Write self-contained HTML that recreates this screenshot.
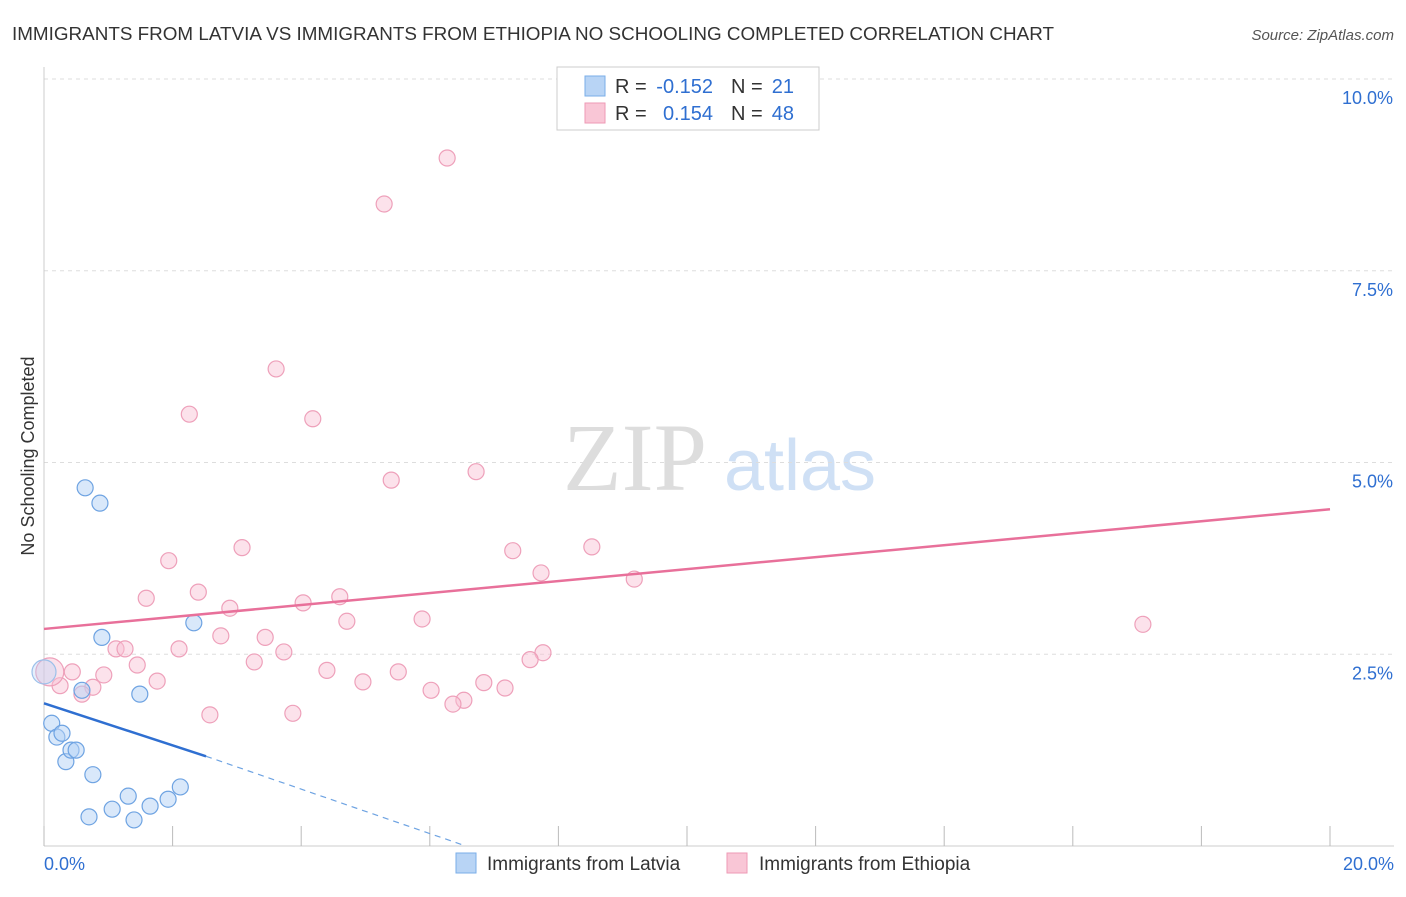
<!DOCTYPE html>
<html><head><meta charset="utf-8"><style>
body{margin:0;background:#fff;font-family:"Liberation Sans",sans-serif}
svg text{font-family:"Liberation Sans",sans-serif}
</style></head><body>
<svg id="c" width="1406" height="892" viewBox="0 0 1406 892">
<text x="12" y="40" font-size="18.5" fill="#333" textLength="1042" lengthAdjust="spacingAndGlyphs">IMMIGRANTS FROM LATVIA VS IMMIGRANTS FROM ETHIOPIA NO SCHOOLING COMPLETED CORRELATION CHART</text>
<text x="1394" y="40" font-size="15" fill="#555" font-style="italic" text-anchor="end">Source: ZipAtlas.com</text>
<text x="34" y="456" font-size="18" fill="#333" text-anchor="middle" transform="rotate(-90 34 456)">No Schooling Completed</text>
<g>
<text x="635" y="490" font-size="96" fill="#ddd" text-anchor="middle" font-family="Liberation Serif" style="font-family:'Liberation Serif',serif">ZIP</text>
<text x="800" y="490" font-size="72" fill="#cfe0f5" text-anchor="middle">atlas</text>
</g>
<g id="grid"></g>
<g id="axes"></g>
<g id="marks"></g>
<g>
<rect x="557" y="67" width="262" height="63" fill="#fff" stroke="#ccc"/>
<rect x="585" y="76" width="20" height="20" fill="#b8d4f5" stroke="#7aaee8"/>
<rect x="585" y="103" width="20" height="20" fill="#f9c6d6" stroke="#ee9ab5"/>
<text x="615" y="93" font-size="20" fill="#333">R =</text>
<text x="713" y="93" font-size="20" fill="#2f6fd1" text-anchor="end">-0.152</text>
<text x="731" y="93" font-size="20" fill="#333">N =</text>
<text x="794" y="93" font-size="20" fill="#2f6fd1" text-anchor="end">21</text>
<text x="615" y="120" font-size="20" fill="#333">R =</text>
<text x="713" y="120" font-size="20" fill="#2f6fd1" text-anchor="end">0.154</text>
<text x="731" y="120" font-size="20" fill="#333">N =</text>
<text x="794" y="120" font-size="20" fill="#2f6fd1" text-anchor="end">48</text>
</g>
<g>
<rect x="456" y="853" width="20" height="20" fill="#b8d4f5" stroke="#7aaee8"/>
<text x="487" y="870" font-size="19" fill="#333">Immigrants from Latvia</text>
<rect x="727" y="853" width="20" height="20" fill="#f9c6d6" stroke="#ee9ab5"/>
<text x="759" y="870" font-size="19" fill="#333">Immigrants from Ethiopia</text>
</g>
</svg>
<script>
const latviaX=[0.12,0.20,0.28,0.34,0.42,0.50,0.59,0.64,0.70,0.76,0.87,0.90,1.06,1.31,1.40,1.49,1.65,1.93,2.12,2.33];
const latviaY=[1.60,1.42,1.47,1.10,1.25,1.25,2.03,4.67,0.38,0.93,4.47,2.72,0.48,0.65,0.34,1.98,0.52,0.61,0.77,2.91];
const ethX=[6.27,5.29,3.61,2.26,4.18,6.72,5.40,3.08,1.94,7.29,8.52,7.73,1.59,2.40,9.18,2.89,4.03,4.60,4.71,5.88,17.09,2.75,3.44,2.10,1.12,1.26,3.73,7.76,7.56,1.45,3.27,0.44,0.93,1.76,4.40,5.51,4.96,6.84,7.17,0.76,0.59,6.02,6.53,6.36,2.58,3.87,0.25];
const ethY=[8.97,8.37,6.22,5.63,5.57,4.88,4.77,3.89,3.72,3.85,3.90,3.56,3.23,3.31,3.48,3.10,3.17,3.25,2.93,2.96,2.89,2.74,2.72,2.57,2.57,2.57,2.53,2.52,2.43,2.36,2.40,2.27,2.23,2.15,2.29,2.27,2.14,2.13,2.06,2.07,1.98,2.03,1.90,1.85,1.71,1.73,2.09];
const bigLatvia=[0,2.27];
const bigEth=[0.09,2.27];
const ethTrend=[[0,2.83],[20,4.39]];
const latTrend=[[0,1.86],[2.52,1.17],[6.56,0]];
const yTicks=[2.5,5,7.5,10];
const yTickLabels=["2.5%","5.0%","7.5%","10.0%"];
const xTicks=[0,2,4,6,8,10,12,14,16,18,20];
const NS="http://www.w3.org/2000/svg";
const X=v=>44+v*64.3, Y=v=>846-v*76.7;
function mk(t,a,p){const e=document.createElementNS(NS,t);for(const k in a)e.setAttribute(k,a[k]);p.appendChild(e);return e;}
const grid=document.getElementById('grid'),axes=document.getElementById('axes'),marks=document.getElementById('marks');
yTicks.forEach((t,i)=>{
 const l=mk('line',{x1:44,x2:1394,y1:Y(t),y2:Y(t),stroke:'#ddd','stroke-dasharray':'4,4'},grid);
 
 
 const tx=mk('text',{x:1393,y:Y(t)+25,'font-size':18,fill:'#2f6fd1','text-anchor':'end'},axes);
 tx.textContent=yTickLabels[i];
 
 
});
const ax=mk('line',{x1:44,x2:44,y1:67,y2:846,stroke:'#ccc'},axes);


const bx=mk('line',{x1:44,x2:1394,y1:846,y2:846,stroke:'#ccc'},axes);


xTicks.forEach(t=>{
 const l=mk('line',{x1:X(t),x2:X(t),y1:826,y2:846,stroke:'#bbb'},axes);
 
 
});
[[0,"0.0%","start",44],[20,"20.0%","end",1394]].forEach(d=>{
 const tx=mk('text',{x:d[3],y:870,'font-size':18,fill:'#2f6fd1','text-anchor':d[2]},axes);
 tx.textContent=d[1];
 
 
});
function dot(x,y,r,f,s,name){const c=mk('circle',{cx:X(x),cy:Y(y),r:r,fill:f,stroke:s,'stroke-width':1.2},marks);
 
 }
ethX.forEach((x,i)=>dot(x,ethY[i],8,'rgba(249,190,210,0.45)','#eea0ba','ethiopia-point'));
dot(bigEth[0],bigEth[1],14,'rgba(249,190,210,0.45)','#eea0ba','ethiopia-point');
latviaX.forEach((x,i)=>dot(x,latviaY[i],8,'rgba(180,210,245,0.5)','#6ea3e2','latvia-point'));
dot(bigLatvia[0],bigLatvia[1],12,'rgba(180,210,245,0.35)','#9cc0ea','latvia-point');
const pl=mk('line',{x1:X(ethTrend[0][0]),y1:Y(ethTrend[0][1]),x2:X(ethTrend[1][0]),y2:Y(ethTrend[1][1]),stroke:'#e8709a','stroke-width':2.5},marks);


const bl=mk('line',{x1:X(latTrend[0][0]),y1:Y(latTrend[0][1]),x2:X(latTrend[1][0]),y2:Y(latTrend[1][1]),stroke:'#2f6fd1','stroke-width':2.5},marks);


const bd=mk('line',{x1:X(latTrend[1][0]),y1:Y(latTrend[1][1]),x2:X(latTrend[2][0]),y2:Y(latTrend[2][1]),stroke:'#6ea3e2','stroke-width':1.2,'stroke-dasharray':'6,5'},marks);


</script>
</body></html>
